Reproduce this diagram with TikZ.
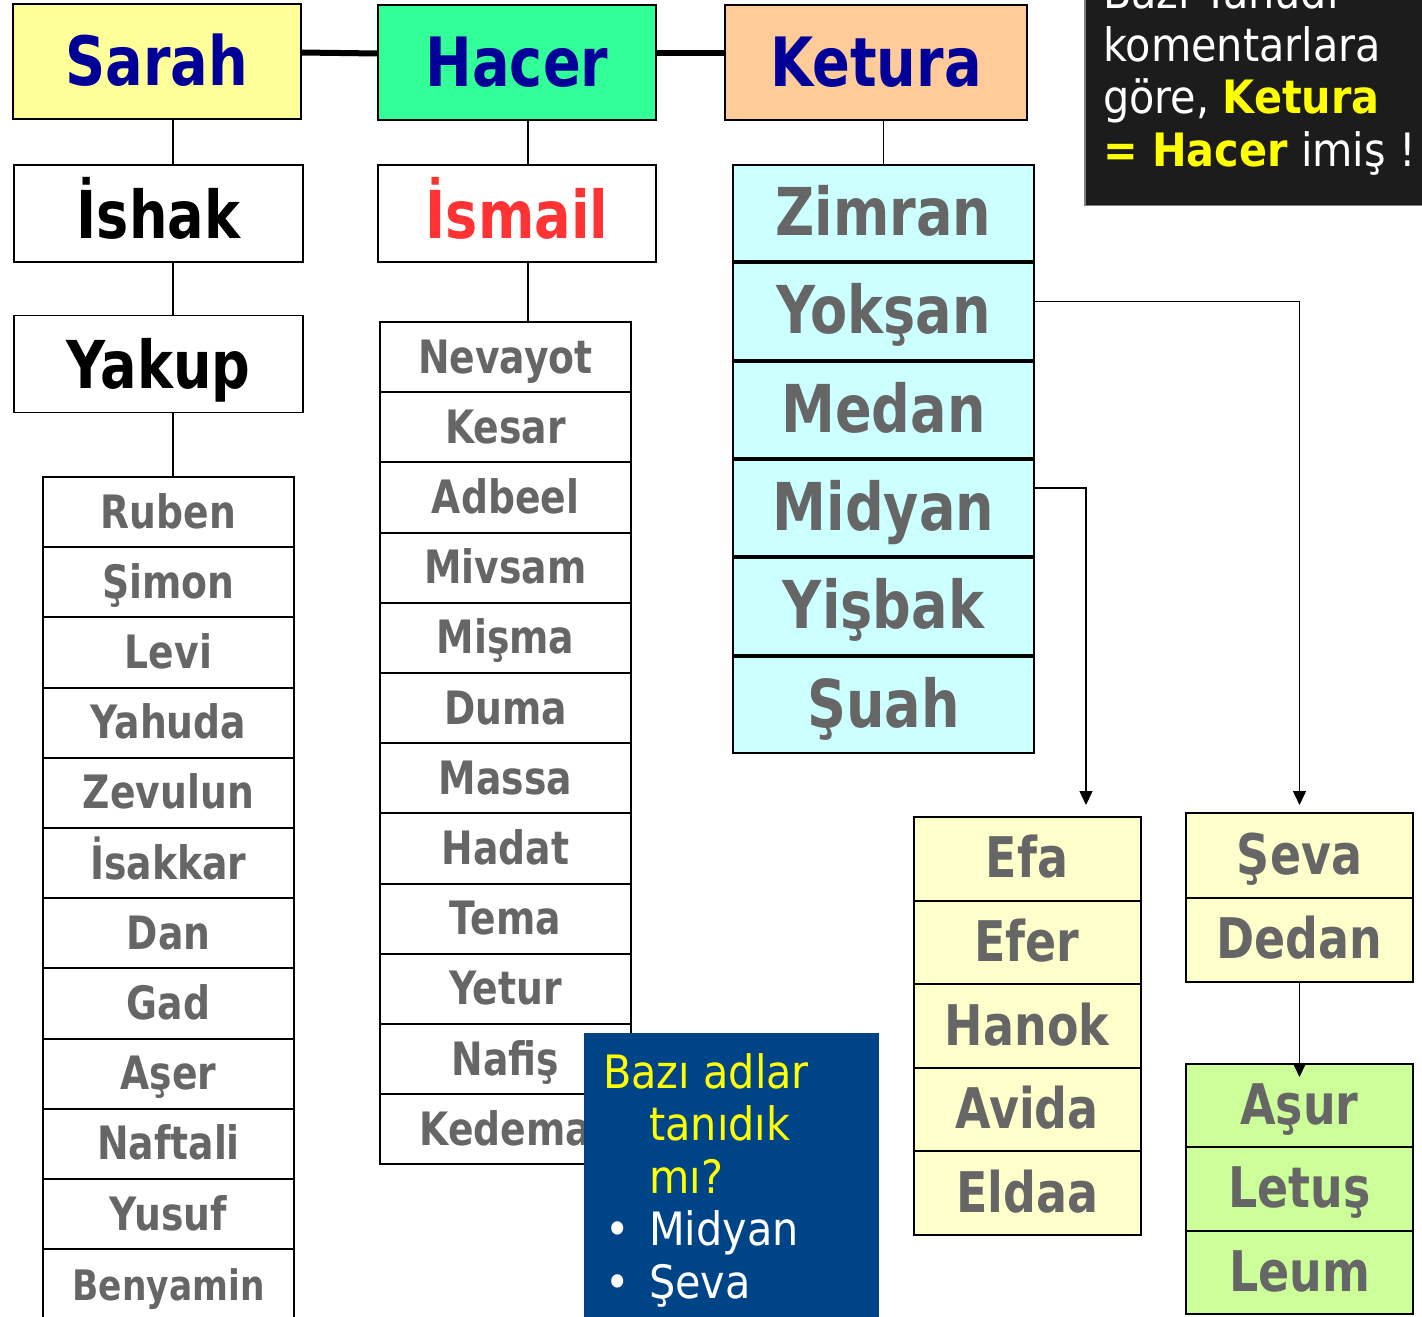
\documentclass[tikz,border=0pt]{standalone}
\usepackage{fontspec}
\setmainfont{DejaVu Sans}[FakeStretch=0.82]
\newfontfamily\notefont{DejaVu Sans}[FakeStretch=0.9]
\usetikzlibrary{positioning,arrows.meta}

\definecolor{wifeblue}{HTML}{000099}
\definecolor{sarahfill}{HTML}{FFFF99}
\definecolor{hacerfill}{HTML}{33FF99}
\definecolor{keturafill}{HTML}{FFCC99}
\definecolor{ismailred}{HTML}{FF3333}
\definecolor{namegrey}{HTML}{666666}
\definecolor{kcyan}{HTML}{CCFFFF}
\definecolor{paleyellow}{HTML}{FFFFCC}
\definecolor{palegreen}{HTML}{CCFF99}
\definecolor{quizblue}{HTML}{004488}
\definecolor{rumorblack}{HTML}{1C1C1C}
\definecolor{noteyellow}{HTML}{FFFF00}

\tikzset{
  wife/.style={draw=black, line width=1.5pt, inner sep=0pt, outer sep=0pt, minimum height=115pt, text=wifeblue, text height=50pt, text depth=3pt, font=\bfseries\fontsize{68}{68}\selectfont},
  heir/.style={draw=black, line width=1.5pt, inner sep=0pt, outer sep=0pt, minimum height=97pt, text height=52pt, text depth=3pt, font=\bfseries\fontsize{66}{66}\selectfont},
  son/.style={draw=black, line width=2pt, inner sep=0pt, outer sep=0pt, minimum width=251pt, minimum height=70.2pt, text=namegrey, text height=35pt, text depth=3pt, font=\bfseries\fontsize{46}{46}\selectfont},
  kson/.style={draw=black, line width=2pt, fill=kcyan, inner sep=0pt, outer sep=0pt, minimum width=301pt, minimum height=96.3pt, text=namegrey, text height=48pt, text depth=3pt, font=\bfseries\fontsize{66}{66}\selectfont},
  grandson/.style={draw=black, line width=2pt, inner sep=0pt, outer sep=0pt, minimum width=227pt, minimum height=83.6pt, text=namegrey, text height=41pt, text depth=3pt, font=\bfseries\fontsize{56}{56}\selectfont},
  notetext/.style={inner sep=0pt, align=left, font=\notefont\fontsize{46}{52.5}\selectfont},
  link/.style={line width=1.5pt},
  marriage/.style={line width=6pt},
  descent/.style={line width=1.5pt, -{Triangle[length=14pt,width=13pt]}},
}

\begin{document}
\begin{tikzpicture}[x=1pt, y=-1pt]
  \useasboundingbox (0,0) rectangle (1422,1317);

  %%%%% WIVES %%%%%
  \node[wife, fill=sarahfill, minimum width=288pt] (sarah) at (157,61.5) {Sarah};
  \node[wife, fill=hacerfill, minimum width=278pt] (hacer) at (517,62.5) {Hacer};
  \node[wife, fill=keturafill, minimum width=302pt] (ketura) at (876,62.5) {Ketura};

  \draw[marriage] ([yshift=9pt]sarah.east) -- ([yshift=9pt]hacer.west);
  \draw[marriage] ([yshift=9.5pt]hacer.east) -- ([yshift=9.5pt]ketura.west);

  %%%%% SARAH %%%%%
  \node[heir, minimum width=289pt] (ishak) at (158.5,213.5) {İshak};
  \node[heir, minimum width=289pt] (yakup) at (158.5,364) {Yakup};

  \node[son, anchor=north] (ruben) at (168.5,477) {Ruben};
  \node[son, below=0pt of ruben] (simon) {Şimon};
  \node[son, below=0pt of simon] (levi) {Levi};
  \node[son, below=0pt of levi] (yahuda) {Yahuda};
  \node[son, below=0pt of yahuda] (zevulun) {Zevulun};
  \node[son, below=0pt of zevulun] (isakkar) {İsakkar};
  \node[son, below=0pt of isakkar] (dan) {Dan};
  \node[son, below=0pt of dan] (gad) {Gad};
  \node[son, below=0pt of gad] (aser) {Aşer};
  \node[son, below=0pt of aser] (naftali) {Naftali};
  \node[son, below=0pt of naftali] (yusuf) {Yusuf};
  \node[son, below=0pt of yusuf, font=\bfseries\fontsize{42}{42}\selectfont] (benyamin) {Benyamin};

  \draw[link] ([xshift=16pt]sarah.south) -- ([xshift=14.5pt]ishak.north);
  \draw[link] ([xshift=14.5pt]ishak.south) -- ([xshift=14.5pt]yakup.north);
  \draw[link] ([xshift=14.5pt]yakup.south) -- ([xshift=4.5pt]ruben.north);

  %%%%% HACER %%%%%
  \node[heir, minimum width=278pt, text=ismailred] (ismail) at (517,213.5) {İsmail};

  \node[son, anchor=north] (nevayot) at (505.5,322) {Nevayot};
  \node[son, below=0pt of nevayot] (kesar) {Kesar};
  \node[son, below=0pt of kesar] (adbeel) {Adbeel};
  \node[son, below=0pt of adbeel] (mivsam) {Mivsam};
  \node[son, below=0pt of mivsam] (misma) {Mişma};
  \node[son, below=0pt of misma] (duma) {Duma};
  \node[son, below=0pt of duma] (massa) {Massa};
  \node[son, below=0pt of massa] (hadat) {Hadat};
  \node[son, below=0pt of hadat] (tema) {Tema};
  \node[son, below=0pt of tema] (yetur) {Yetur};
  \node[son, below=0pt of yetur] (nafis) {Nafiş};
  \node[son, below=0pt of nafis] (kedema) {Kedema};

  \draw[link] ([xshift=11pt]hacer.south) -- ([xshift=11pt]ismail.north);
  \draw[link] ([xshift=11pt]ismail.south) -- ([xshift=22.5pt]nevayot.north);

  %%%%% KETURA %%%%%
  \node[kson, anchor=north] (zimran) at (883.5,165) {Zimran};
  \node[kson, below=2pt of zimran] (yoksan) {Yokşan};
  \node[kson, below=2pt of yoksan] (medan) {Medan};
  \node[kson, below=2pt of medan] (midyan) {Midyan};
  \node[kson, below=2pt of midyan] (yisbak) {Yişbak};
  \node[kson, below=2pt of yisbak] (suah) {Şuah};

  \draw[link] (ketura.south -| zimran.north) -- (zimran.north);

  \node[grandson, fill=paleyellow, anchor=north] (efa) at (1027,817) {Efa};
  \node[grandson, fill=paleyellow, below=0pt of efa] (efer) {Efer};
  \node[grandson, fill=paleyellow, below=0pt of efer] (hanok) {Hanok};
  \node[grandson, fill=paleyellow, below=0pt of hanok] (avida) {Avida};
  \node[grandson, fill=paleyellow, below=0pt of avida] (eldaa) {Eldaa};

  \node[grandson, fill=paleyellow, minimum height=84.5pt, anchor=north] (seva) at (1299.5,813) {Şeva};
  \node[grandson, fill=paleyellow, minimum height=84.5pt, below=0pt of seva] (dedan) {Dedan};

  \node[grandson, fill=palegreen, minimum height=83.3pt, anchor=north] (asur) at (1299.5,1064) {Aşur};
  \node[grandson, fill=palegreen, minimum height=83.3pt, below=0pt of asur] (letus) {Letuş};
  \node[grandson, fill=palegreen, minimum height=83.3pt, below=0pt of letus] (leum) {Leum};

  \draw[descent] ([yshift=10pt]yoksan.east) -| ([yshift=8pt]seva.north);
  \draw[descent] ([yshift=20pt]midyan.east) -| ([xshift=59pt,yshift=12pt]efa.north);
  \draw[descent] (dedan.south) -- ([yshift=-13pt]asur.north);

  %%%%% NOTES %%%%%
  \node[draw=gray, line width=1.5pt, fill=rumorblack, anchor=south west, minimum width=345pt, minimum height=240pt] (rumor) at (1084,206) {};
  \node[notetext, text=white, anchor=base west] (rumortext) at (1103,166)
    {Bazı Yahudi\\komentarlara\\göre, {\bfseries\color{noteyellow}Ketura}\\{\bfseries\color{noteyellow}= Hacer} imiş !};

  \node[fill=quizblue, anchor=north west, minimum width=295pt, minimum height=300pt] (quiz) at (584,1033) {};
  \node[notetext, text=white, anchor=base west] (quiztext) at (603,1298)
    {{\color{noteyellow}Bazı adlar}\\\hspace*{46pt}{\color{noteyellow}tanıdık}\\\hspace*{46pt}{\color{noteyellow}mı?}\\\makebox[46pt][l]{\hspace*{2pt}•}Midyan\\\makebox[46pt][l]{\hspace*{2pt}•}Şeva};
\end{tikzpicture}
\end{document}
